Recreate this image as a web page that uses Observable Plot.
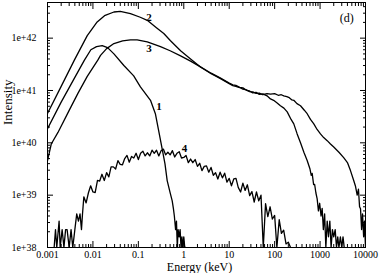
<!DOCTYPE html>
<html><head><meta charset="utf-8">
<script src="https://cdn.jsdelivr.net/npm/d3@7"></script>
<script src="https://cdn.jsdelivr.net/npm/@observablehq/plot@0.6"></script>
<style>html,body{margin:0;padding:0;background:#fff} svg{display:block}</style>
</head><body><div id="chart"></div>
<script>
// Axis ticks
const xMajor = [0.001, 0.01, 0.1, 1, 10, 100, 1000, 10000];
const xTickLabels = ["0.001", "0.01", "0.1", "1", "10", "100", "1000", "10000"];
const yMajor = [1e38, 1e39, 1e40, 1e41, 1e42];
const yTickLabels = ["1e+38", "1e+39", "1e+40", "1e+41", "1e+42"];

// Curve 1
const e1 = [0.001, 0.002, 0.004, 0.0065, 0.009, 0.012, 0.016, 0.021, 0.029, 0.048, 0.079, 0.111, 0.185, 0.238, 0.277, 0.335, 0.385, 0.431, 0.50, 0.556, 0.59, 0.62, 0.66, 0.69, 0.72, 0.75, 0.79, 0.83, 0.87, 0.91, 0.95, 1.0, 1.05, 1.1];
const i1 = [1.86e40, 6.0e40, 1.78e41, 3.8e41, 6.0e41, 6.9e41, 7.2e41, 6.6e41, 5.0e41, 3.0e41, 1.9e41, 1.17e41, 6.5e40, 3.55e40, 1.78e40, 7.6e39, 4.0e39, 1.9e39, 1.12e39, 7.8e38, 5.6e38, 4.0e38, 2.2e38, 3.2e38, 1e38, 2.2e38, 1.6e38, 2.2e38, 1e38, 1.6e38, 1e38, 1.6e38, 1e38, 1e38];

// Curve 2
const e2 = [0.001, 0.002, 0.0039, 0.0053, 0.0075, 0.0124, 0.018, 0.029, 0.04, 0.067, 0.11, 0.157, 0.25, 0.363, 0.51, 0.85, 1.41, 2.33, 4.0, 6.3, 10, 12, 14, 17, 20, 24, 28, 33, 39, 46, 55, 68, 81, 95, 110, 134, 160, 189, 230, 264, 313, 371, 440, 520, 600, 640, 670, 720, 760, 810, 863, 920, 980, 1050, 1112, 1180, 1260, 1340, 1435, 1530, 1640, 1750, 1870, 2000, 2150, 2300, 2450, 2600, 2800, 3000, 3200, 3400];
const i2 = [3.63e40, 1.2e41, 3.8e41, 6.3e41, 1.12e42, 2.04e42, 2.69e42, 3.16e42, 3.24e42, 2.95e42, 2.51e42, 2.19e42, 1.58e42, 1.23e42, 8.9e41, 5.75e41, 4.0e41, 2.82e41, 2.14e41, 1.74e41, 1.38e41, 1.28e41, 1.25e41, 1.15e41, 1.12e41, 1.01e41, 9.8e40, 9.0e40, 9.2e40, 8.4e40, 8.6e40, 7.9e40, 6.9e40, 6.5e40, 5.9e40, 5.1e40, 4.6e40, 3.9e40, 2.8e40, 2.3e40, 1.48e40, 1.0e40, 6.6e39, 4.6e39, 3.16e39, 2.4e39, 2.6e39, 1.6e39, 1.6e39, 1.1e39, 8.5e38, 5.0e38, 7.0e38, 4.0e38, 5.6e38, 2.2e38, 4.4e38, 1e38, 3.2e38, 1.6e38, 3.2e38, 1e38, 2.2e38, 1.6e38, 2.2e38, 1e38, 1.6e38, 1e38, 1.6e38, 1e38, 1.6e38, 1e38];

// Curve 3
const e3 = [0.001, 0.00121, 0.0017, 0.003, 0.00464, 0.0075, 0.0128, 0.0147, 0.02, 0.029, 0.045, 0.067, 0.094, 0.157, 0.307, 0.5, 0.85, 1.41, 2.33, 4.0, 6.3, 10, 12, 14, 17, 20, 24, 28, 33, 39, 46, 55, 68, 81, 100, 120, 140, 159, 185, 210, 240, 264, 310, 371, 450, 520, 615, 728, 860, 1020, 1200, 1435, 1694, 2000, 2600, 3310, 4000, 4670, 5500, 6000, 6560, 7000, 7400, 7770, 8200, 8600, 9100, 9500, 10000];
const i3 = [4.57e39, 9.5e39, 1.58e40, 4.17e40, 8.7e40, 1.86e41, 3.8e41, 4.68e41, 6.3e41, 7.9e41, 8.9e41, 9.3e41, 9.3e41, 8.5e41, 6.9e41, 5.75e41, 4.57e41, 3.63e41, 2.82e41, 2.09e41, 1.70e41, 1.35e41, 1.24e41, 1.2e41, 1.14e41, 1.06e41, 1.03e41, 9.5e40, 9.4e40, 8.8e40, 8.9e40, 8.3e40, 8.7e40, 8.5e40, 8.7e40, 8.1e40, 8.3e40, 7.9e40, 7.6e40, 7.3e40, 6.6e40, 6.5e40, 5.6e40, 5.1e40, 4.2e40, 3.6e40, 2.8e40, 2.3e40, 1.8e40, 1.48e40, 1.26e40, 1.1e40, 9.5e39, 8.3e39, 6.6e39, 5.2e39, 4.2e39, 2.95e39, 1.9e39, 1.5e39, 1.0e39, 1.3e39, 6e38, 5.5e38, 2.2e38, 4.4e38, 1.6e38, 3.2e38, 1e38];

// Curve 4 (noisy)
const e4 = [0.0014, 0.0015, 0.0016, 0.0018, 0.0019, 0.0021, 0.0023, 0.0025, 0.0027, 0.0030,
  0.0033, 0.0036, 0.0040, 0.0044, 0.0048, 0.0052, 0.0056, 0.0059,
  0.00631, 0.00708, 0.00794, 0.00891, 0.0100, 0.0112, 0.0126, 0.0141, 0.0158, 0.0178,
  0.0200, 0.0224, 0.0251, 0.0282, 0.0316, 0.0355, 0.0398, 0.0447, 0.0501, 0.0562,
  0.0631, 0.0708, 0.0794, 0.0891, 0.100, 0.112, 0.126, 0.141, 0.158, 0.178,
  0.200, 0.224, 0.251, 0.282, 0.316, 0.355, 0.398, 0.447, 0.501, 0.562,
  0.631, 0.708, 0.794, 0.891, 1.00, 1.12, 1.26, 1.41, 1.58, 1.78,
  2.00, 2.24, 2.51, 2.82, 3.16, 3.55, 3.98, 4.47, 5.01, 5.62,
  6.31, 7.08, 7.94, 8.91, 10.0, 11.2, 12.6, 14.1, 15.8, 17.8,
  20.0, 22.4, 25.1, 28.2, 31.6, 35.5, 39.8, 44.7, 50.1, 56.2,
  63.1, 70.8, 79.4, 89.1, 100, 112, 126, 141, 158, 178,
  200, 224];
const i4 = [1e38, 2.2e38, 1e38, 3.2e38, 1e38, 2.2e38, 1e38, 2.2e38, 2.2e38, 1e38,
  2.2e38, 1e38, 2.2e38, 4.4e38, 3.2e38, 4.4e38, 2.2e38, 4.4e38,
  9.3e38, 7.1e38, 1.10e39, 1.51e39, 1.15e39, 1.12e39, 1.91e39, 1.86e39, 2.51e39, 1.91e39,
  2.69e39, 2.24e39, 3.47e39, 3.47e39, 3.16e39, 4.57e39, 3.89e39, 3.80e39, 5.01e39, 5.75e39,
  4.27e39, 5.50e39, 5.13e39, 6.31e39, 4.79e39, 6.31e39, 6.92e39, 5.62e39, 6.46e39, 5.62e39,
  7.24e39, 6.31e39, 7.24e39, 5.62e39, 7.08e39, 7.59e39, 5.89e39, 6.61e39, 5.89e39, 7.08e39,
  5.37e39, 6.31e39, 6.76e39, 5.13e39, 5.25e39, 5.75e39, 4.17e39, 4.90e39, 4.17e39, 4.79e39,
  3.55e39, 4.07e39, 2.95e39, 3.55e39, 3.63e39, 2.75e39, 3.39e39, 2.40e39, 2.69e39, 2.04e39,
  2.75e39, 2.14e39, 2.63e39, 1.78e39, 2.09e39, 1.51e39, 2.04e39, 2.09e39, 1.41e39, 1.15e39,
  1.70e39, 1.23e39, 1.58e39, 9.8e38, 1.17e39, 7.4e38, 1.15e39, 7.8e38, 1.0e39, 1e38,
  6.9e38, 3.9e38, 6.0e38, 3.5e38, 4.1e38, 1e38, 3.4e38, 1.86e38, 2.14e38, 1.17e38,
  1.26e38, 1e38];

// Annotations (curve numbers and panel tag)
const curveLabels = ["1", "2", "3", "4"];
const curveLabelE = [0.284, 0.171, 0.171, 1.04];
const curveLabelI = [4.95e40, 2.5e42, 6.4e41, 7.8e39];
const panelTag = "(d)";
const panelTagE = 3870, panelTagI = 2.37e42;

const series = [["1", e1, i1], ["2", e2, i2], ["3", e3, i3], ["4", e4, i4]];
const rows = series.flatMap(([id, es, is]) =>
  es.slice(0, Math.min(es.length, is.length)).map((e, k) => ({curve: id, energy: e, intensity: is[k]})));
const labelRows = curveLabels.map((t, k) => ({t, energy: curveLabelE[k], intensity: curveLabelI[k]}));

const xDomain = [0.001, 10000];
const yDomain = [1e38, 4.8e42];
const allTicksX = d3.scaleLog().domain(xDomain).ticks();
const allTicksY = d3.scaleLog().domain(yDomain).ticks();
const xMinor = allTicksX.filter(v => !xMajor.some(m => Math.abs(m - v) / m < 1e-9));
const yMinor = allTicksY.filter(v => !yMajor.some(m => Math.abs(m - v) / m < 1e-9));

const serif = "'Liberation Serif', 'Times New Roman', 'DejaVu Serif', serif";

const chart = Plot.plot({
  width: 382,
  height: 273,
  marginLeft: 47,
  marginRight: 17,
  marginTop: 2,
  marginBottom: 26,
  style: {fontFamily: serif, fontSize: "10px", color: "black", background: "white", overflow: "visible"},
  x: {type: "log", domain: xDomain, label: null},
  y: {type: "log", domain: yDomain, label: null},
  marks: [
    Plot.axisX(xMinor, {anchor: "bottom", tickSize: -3, tickFormat: () => "", label: null}),
    Plot.axisX(xMinor, {anchor: "top", tickSize: -3, tickFormat: () => "", label: null}),
    Plot.axisX(xMajor, {anchor: "top", tickSize: -6, tickFormat: () => "", label: null}),
    Plot.axisX(xMajor, {anchor: "bottom", tickSize: -6, tickPadding: 9, fontSize: 10,
      tickFormat: d => xTickLabels[xMajor.findIndex(m => Math.abs(m - d) / m < 1e-9)], label: null}),
    Plot.axisY(yMinor, {anchor: "left", tickSize: -3, tickFormat: () => "", label: null}),
    Plot.axisY(yMinor, {anchor: "right", tickSize: -3, tickFormat: () => "", label: null}),
    Plot.axisY(yMajor, {anchor: "right", tickSize: -6, tickFormat: () => "", label: null}),
    Plot.axisY(yMajor, {anchor: "left", tickSize: -6, tickPadding: 17, fontSize: 10,
      tickFormat: d => yTickLabels[yMajor.findIndex(m => Math.abs(m - d) / m < 1e-9)], label: null}),
    Plot.line(rows, {x: "energy", y: "intensity", z: "curve", stroke: "black", strokeWidth: 1.3, clip: true}),
    Plot.frame({stroke: "black", strokeWidth: 1}),
    Plot.text(labelRows, {x: "energy", y: "intensity", text: "t", fontWeight: "bold", fontSize: 11, fill: "black"}),
    Plot.text([panelTag], {x: () => panelTagE, y: () => panelTagI, text: d => d, fontSize: 12, fill: "black"}),
    Plot.text(["Energy (keV)"], {frameAnchor: "bottom", dx: -7, dy: 23.5, lineAnchor: "bottom", text: d => d, fontSize: 12, fill: "black"}),
    Plot.text(["Intensity"], {frameAnchor: "left", dx: -40, rotate: -90, lineAnchor: "middle", text: d => d, fontSize: 13, fill: "black"})
  ]
});
document.getElementById("chart").appendChild(chart);
</script>
</body></html>
